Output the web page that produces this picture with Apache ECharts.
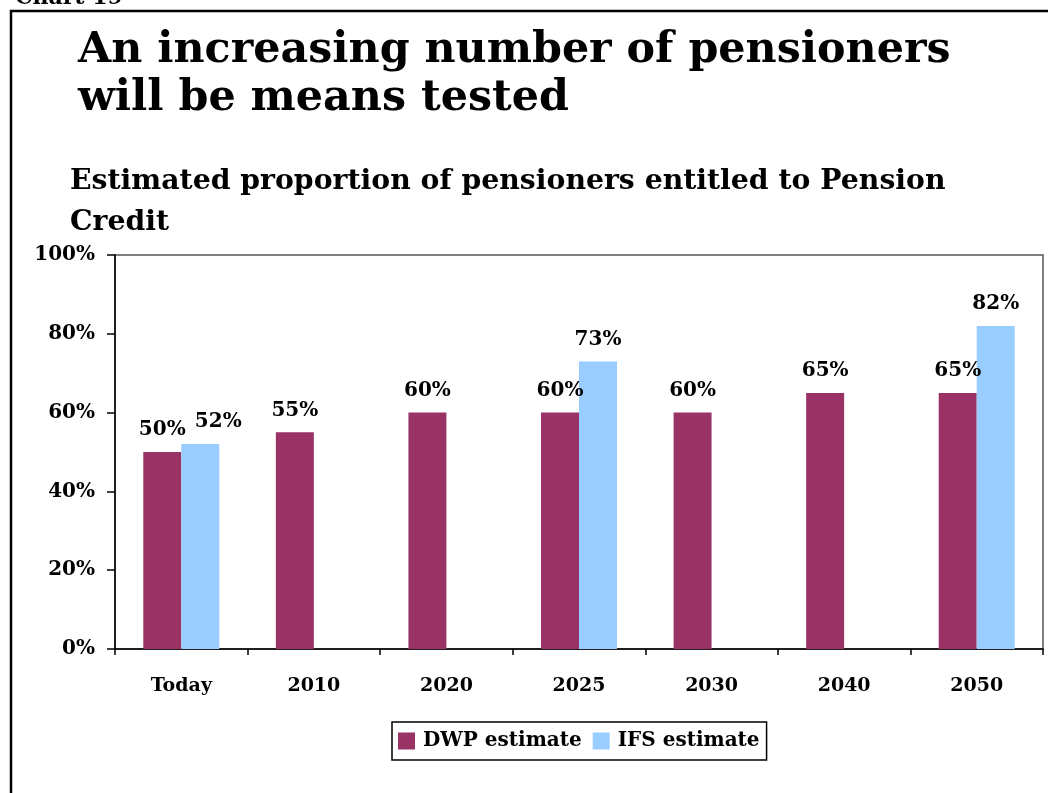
<!DOCTYPE html>
<html>
<head>
<meta charset="utf-8">
<script src="https://cdn.jsdelivr.net/npm/echarts@6/dist/echarts.min.js"></script>
<style>
  html, body { margin: 0; padding: 0; background: #fff; }
  #chart { width: 1048px; height: 793px; }
</style>
</head>
<body>
<div id="chart"></div>
<script>
// Share of pensioners entitled to Pension Credit, by year
const categories = ['Today', '2010', '2020', '2025', '2030', '2040', '2050'];
const dwpEstimate = [50, 55, 60, 60, 60, 65, 65];
const ifsEstimate = [52, null, null, 73, null, null, 82];
const yTicks = [0, 20, 40, 60, 80, 100];

const SERIF = '"DejaVu Serif", "Liberation Serif", serif';
const chart = echarts.init(document.getElementById('chart'), null, { renderer: 'canvas' });

const labelStyle = {
  show: true,
  position: 'top',
  distance: 12,
  formatter: p => p.value + '%',
  fontFamily: SERIF,
  fontWeight: 'bold',
  fontSize: 20,
  color: '#000'
};

// The first IFS label is nudged right so it clears the neighbouring DWP label
const ifsData = ifsEstimate.map((v, i) =>
  i === 0 ? { value: v, label: { offset: [18, 0] } } : v
);

chart.setOption({
  animation: false,
  backgroundColor: '#fff',
  title: [
    {
      text: 'An increasing number of pensioners\nwill be means tested',
      left: 73,
      top: 22,
      textStyle: {
        fontFamily: SERIF,
        fontWeight: 'bold',
        fontSize: 42.8,
        lineHeight: 48,
        color: '#000'
      }
    },
    {
      text: 'Estimated proportion of pensioners entitled to Pension\nCredit',
      left: 65,
      top: 156,
      textStyle: {
        fontFamily: SERIF,
        fontWeight: 'bold',
        fontSize: 28.3,
        lineHeight: 41,
        color: '#000'
      }
    }
  ],
  graphic: [
    {
      type: 'rect',
      shape: { x: 11, y: 11, width: 1200, height: 1000 },
      style: { fill: 'none', stroke: '#000', lineWidth: 2.5 },
      silent: true
    },
    {
      // page caption, mostly above the top edge
      type: 'text',
      x: 15,
      y: 9,
      style: {
        text: 'Chart 19',
        fontFamily: SERIF,
        fontWeight: 'bold',
        fontSize: 22,
        fill: '#000',
        verticalAlign: 'bottom'
      }
    }
  ],
  legend: {
    data: ['DWP estimate', 'IFS estimate'],
    left: 392,
    top: 722,
    icon: 'rect',
    itemWidth: 17,
    itemHeight: 17,
    itemGap: 11,
    padding: [9, 7, 9, 6],
    borderColor: '#000',
    borderWidth: 1.5,
    textStyle: {
      fontFamily: SERIF,
      fontWeight: 'bold',
      fontSize: 20,
      color: '#000',
      padding: [0, 0, 0, 3]
    }
  },
  grid: {
    left: 115,
    right: 5,
    top: 255,
    bottom: 144,
    show: true,
    borderColor: '#555',
    borderWidth: 1.5,
    backgroundColor: '#fff'
  },
  xAxis: {
    type: 'category',
    data: categories,
    axisLine: { show: true, lineStyle: { color: '#000', width: 1.5 } },
    axisTick: { show: true, alignWithLabel: false, length: 6, lineStyle: { color: '#000', width: 1.5 } },
    axisLabel: {
      margin: 28,
      fontFamily: SERIF,
      fontWeight: 'bold',
      fontSize: 19,
      color: '#000'
    }
  },
  yAxis: {
    type: 'value',
    min: yTicks[0],
    max: yTicks[yTicks.length - 1],
    interval: yTicks[1] - yTicks[0],
    splitLine: { show: false },
    axisLine: { show: true, lineStyle: { color: '#000', width: 1.5 } },
    axisTick: { show: true, length: 8, lineStyle: { color: '#000', width: 1.5 } },
    axisLabel: {
      formatter: '{value}%',
      margin: 20,
      fontFamily: SERIF,
      fontWeight: 'bold',
      fontSize: 20,
      color: '#000'
    }
  },
  series: [
    {
      name: 'DWP estimate',
      type: 'bar',
      data: dwpEstimate,
      barWidth: 38,
      barGap: '0%',
      itemStyle: { color: '#993366' },
      label: labelStyle
    },
    {
      name: 'IFS estimate',
      type: 'bar',
      data: ifsData,
      barWidth: 38,
      barGap: '0%',
      itemStyle: { color: '#99ccff' },
      label: labelStyle
    }
  ]
});
</script>
</body>
</html>
